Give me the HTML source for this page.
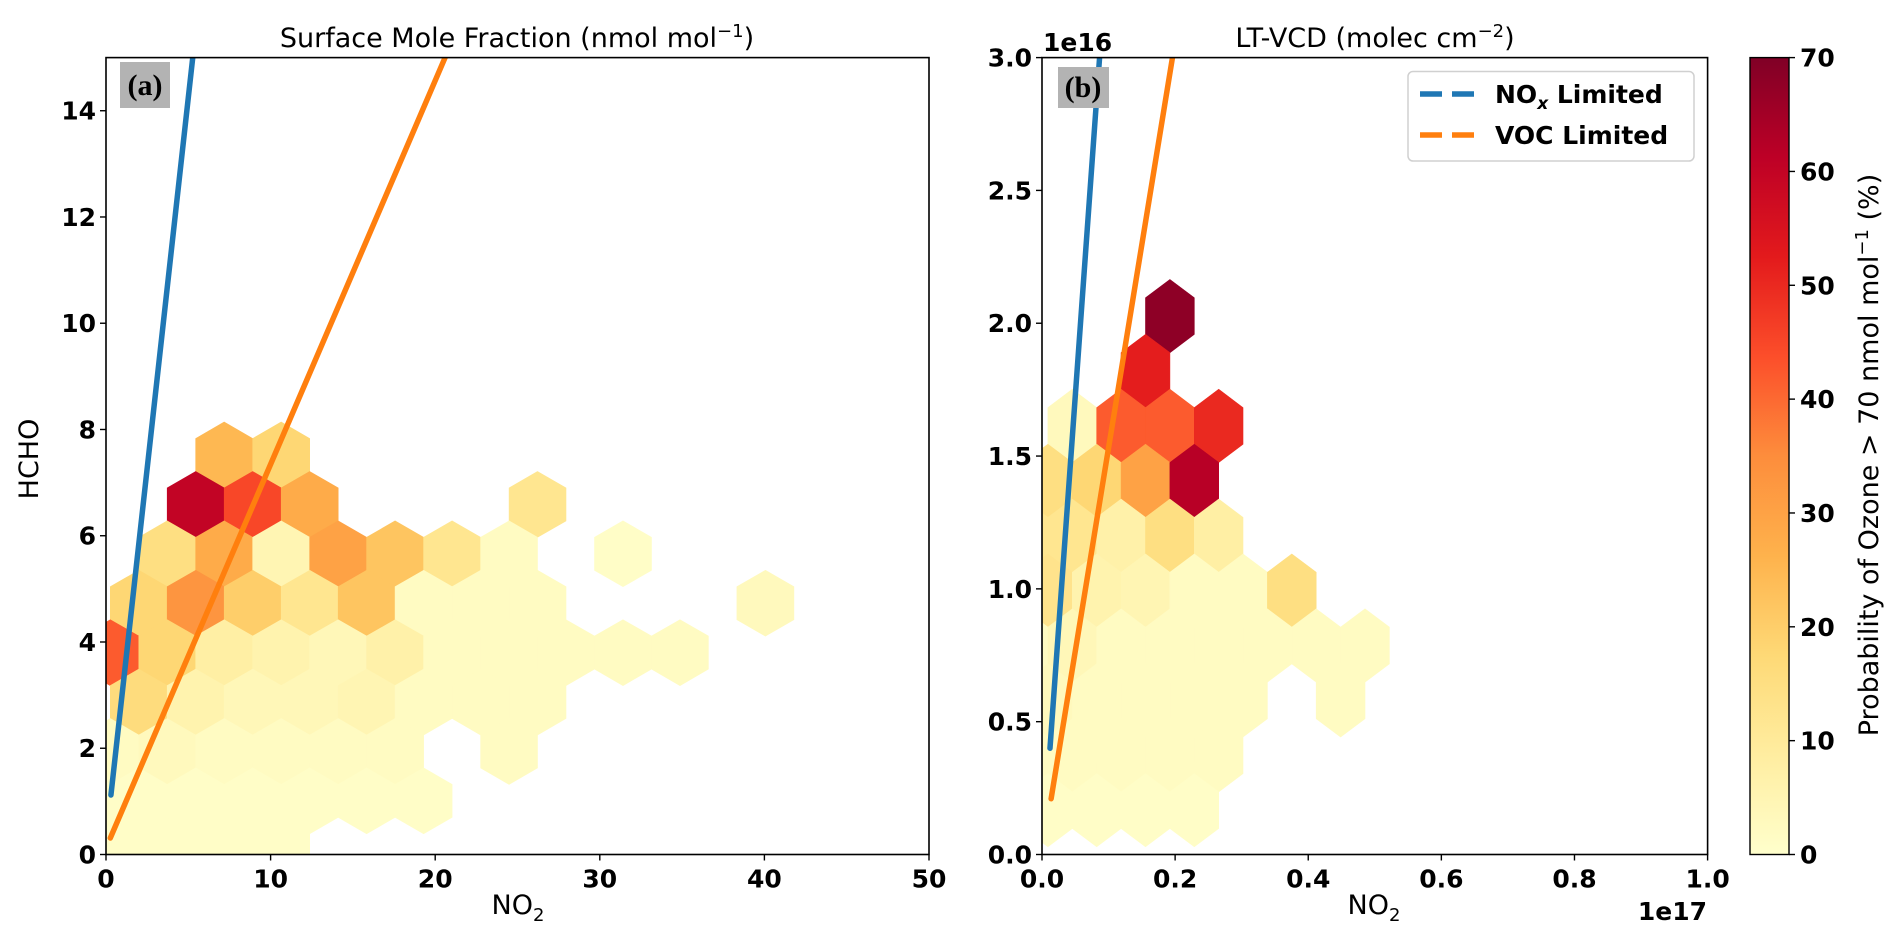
<!DOCTYPE html>
<html><head><meta charset="utf-8"><style>
html,body{margin:0;padding:0;background:#fff;}
svg{display:block;font-family:"DejaVu Sans","Liberation Sans",sans-serif;}
.tk{font-size:25px;font-weight:bold;fill:#000;}
.lbl{font-size:27px;fill:#000;}
</style></head><body>
<svg id="fig" width="1892" height="930" viewBox="0 0 1892 930" xmlns="http://www.w3.org/2000/svg">
<defs>
<clipPath id="clipA"><rect x="106" y="57.6" width="823" height="797"/></clipPath>
<clipPath id="clipB"><rect x="1042" y="57.6" width="665.6" height="797"/></clipPath>
<linearGradient id="cmap" x1="0" y1="1" x2="0" y2="0">
<stop offset="0" stop-color="#ffffcc"/><stop offset="0.125" stop-color="#ffeda0"/><stop offset="0.25" stop-color="#fed976"/><stop offset="0.375" stop-color="#feb24c"/><stop offset="0.5" stop-color="#fd8d3c"/><stop offset="0.625" stop-color="#fc4e2a"/><stop offset="0.75" stop-color="#e31a1c"/><stop offset="0.875" stop-color="#bd0026"/><stop offset="1" stop-color="#800026"/>
</linearGradient>
</defs>
<g id="panelA"></g>
<g id="panelB"></g>
<g id="cbar"></g>
</svg>
<script>
// ---- Panel (a) data ----
const aRows=[8,8, 7,7,7,7, 6,6,6,6,6,6,6,6, 5,5,5,5,5,5,5,5,5, 4,4,4,4,4,4,4,4,4,4,4, 3,3,3,3,3,3,3,3, 2,2,2,2,2,2,2, 1,1,1,1,1,1,1, 0,0,0,0];
const aCols=[2,3, 1,2,3,7, 1,2,3,4,5,6,7,9, 0,1,2,3,4,5,6,7,11, 0,1,2,3,4,5,6,7,8,9,10, 0,1,2,3,4,5,6,7, 0,1,2,3,4,5,7, -1,0,1,2,3,4,5, 0,1,2,3];
const aVals=[25,18, 60,45,28,12, 15,28,5,30,22,12,2,1, 18,33,20,12,22,2,2,2,3, 42,18,8,6,4,7,2,2,2,2,2, 16,6,4,4,5,2,2,2, 2,3,2,2,2,2,2, 1,1,1,1,1,1,1, 1,1,1,1];
const aXTicks=[0,10,20,30,40,50];
const aYTicks=[0,2,4,6,8,10,12,14];
const aNoxLine=[[0.3,1.12],[5.27,15]];
const aVocLine=[[0.26,0.31],[20.6,15]];
// ---- Panel (b) data ----
const bRows=[9, 8, 7,7,7,7, 6,6,6,6, 5,5,5,5,5, 4,4,4,4,4,4, 3,3,3,3,3,3,3,3, 2,2,2,2,2,2, 1,1,1,1,1, 0,0,0,0];
const bCols=[3, 2, 1,2,3,4, 0,1,2,3, 0,1,2,3,4, 0,1,2,3,4,5, 0,1,2,3,4,5,6,7, 0,1,2,3,4,6, 0,1,2,3,4, 0,1,2,3];
const bVals=[68, 52, 3,42,42,50, 15,18,30,62, 12,12,7,15,8, 13,6,5,2,2,15, 2,4,2,2,2,2,2,2, 3,2,2,2,2,2, 2,2,2,2,2, 1,1,1,1];
const bXTicks=[0,0.2,0.4,0.6,0.8,1.0];
const bYTicks=[0,0.5,1.0,1.5,2.0,2.5,3.0];
const bNoxLine=[[0.012,0.40],[0.0865,3.0]];
const bVocLine=[[0.0137,0.21],[0.196,3.0]];
const cbTicks=[0,10,20,30,40,50,60,70];

const NS="http://www.w3.org/2000/svg";
function mk(tag,attrs,parent,text){const e=document.createElementNS(NS,tag);for(const k in attrs)e.setAttribute(k,attrs[k]);if(text!==undefined)e.textContent=text;parent.appendChild(e);return e;}
const stops=[[0,[255,255,204]],[0.125,[255,237,160]],[0.25,[254,217,118]],[0.375,[254,178,76]],[0.5,[253,141,60]],[0.625,[252,78,42]],[0.75,[227,26,28]],[0.875,[189,0,38]],[1,[128,0,38]]];
function cmap(v){let t=Math.max(0,Math.min(1,v/70));for(let i=0;i<stops.length-1;i++){const [t0,c0]=stops[i],[t1,c1]=stops[i+1];if(t<=t1){const f=(t-t0)/(t1-t0);return 'rgb('+c0.map((c,j)=>Math.round(c+(c1[j]-c)*f)).join(',')+')';}}return 'rgb(128,0,38)';}

const Y0=854.5,Y1=57.6;
const xa=v=>106+(v-0)/50*823, ya=v=>Y0-(v/15)*(Y0-Y1);
const xb=v=>1042+v*665.6, yb=v=>Y0-(v/3)*(Y0-Y1);

function drawPanel(g,clip,xf,yf,rows,cols,vals,grid,name){
  const hg=mk('g',{'clip-path':'url(#'+clip+')'},g);
  
  
  for(let i=0;i<rows.length;i++){
    const r=rows[i],c=cols[i];
    const dxo=(r%2===grid.oddParity)?grid.dx/2:0;
    const cxD=grid.x0+c*grid.dx+dxo, cyD=grid.y0+r*grid.dy;
    const hw=(xf(cxD+grid.dx/2)-xf(cxD-grid.dx/2))/2;
    const hh=(yf(cyD)-yf(cyD+grid.dy*2/3));
    const cx=xf(cxD),cy=yf(cyD);
    const pts=[[cx,cy-hh],[cx+hw,cy-hh/2],[cx+hw,cy+hh/2],[cx,cy+hh],[cx-hw,cy+hh/2],[cx-hw,cy-hh/2]].map(p=>p[0].toFixed(1)+','+p[1].toFixed(1)).join(' ');
    const p=mk('polygon',{points:pts,fill:cmap(vals[i]),stroke:cmap(vals[i]),'stroke-width':0.6},hg);
    
    
  }
}
function drawLine(g,clip,xf,yf,pts,color,name){
  const l=mk('line',{x1:xf(pts[0][0]),y1:yf(pts[0][1]),x2:xf(pts[1][0]),y2:yf(pts[1][1]),stroke:color,'stroke-width':5.5,'stroke-linecap':'round','clip-path':'url(#'+clip+')'},g);
  
  
}
function drawAxes(g,x0,x1,xf,yf,xt,yt,xfmt,yfmt){
  const fr=mk('rect',{x:x0,y:Y1,width:x1-x0,height:Y0-Y1,fill:'none',stroke:'#000','stroke-width':1.6},g);
  
  
  xt.forEach(v=>{const x=xf(v);mk('line',{x1:x,y1:Y0,x2:x,y2:Y0+6,stroke:'#000','stroke-width':1.4},g);
    const t=mk('text',{x:x,y:Y0+33,'text-anchor':'middle',class:'tk'},g,xfmt(v));
    
    });
  yt.forEach(v=>{const y=yf(v);mk('line',{x1:x0-6,y1:y,x2:x0,y2:y,stroke:'#000','stroke-width':1.4},g);
    const t=mk('text',{x:x0-10,y:y+9,'text-anchor':'end',class:'tk'},g,yfmt(v));
    
    });
}

const gA=document.getElementById('panelA');
drawPanel(gA,'clipA',xa,ya,aRows,aCols,aVals,{x0:0.26,dx:3.461,y0:0.08,dy:0.93,oddParity:1},'panel-a');
drawLine(gA,'clipA',xa,ya,aNoxLine,'#1f77b4','nox-limited-line-a');
drawLine(gA,'clipA',xa,ya,aVocLine,'#ff7f0e','voc-limited-line-a');
drawAxes(gA,106,929,xa,ya,aXTicks,aYTicks,v=>String(v),v=>String(v));
const gB=document.getElementById('panelB');
drawPanel(gB,'clipB',xb,yb,bRows,bCols,bVals,{x0:-0.0278,dx:0.0733,y0:0.1666,dy:0.2067,oddParity:0},'panel-b');
drawLine(gB,'clipB',xb,yb,bNoxLine,'#1f77b4','nox-limited-line-b');
drawLine(gB,'clipB',xb,yb,bVocLine,'#ff7f0e','voc-limited-line-b');
drawAxes(gB,1042,1707.6,xb,yb,bXTicks,bYTicks,v=>v.toFixed(1),v=>v.toFixed(1));
const gC=document.getElementById('cbar');
const cbr=mk('rect',{x:1750,y:Y1,width:39,height:Y0-Y1,fill:'url(#cmap)',stroke:'#000','stroke-width':1.4},gC);


cbTicks.forEach(v=>{const y=Y0-(v/70)*(Y0-Y1);mk('line',{x1:1789,y1:y,x2:1795,y2:y,stroke:'#000','stroke-width':1.4},gC);
  const t=mk('text',{x:1800,y:y+9,class:'tk'},gC,String(v));
  
  });
</script>
<script>
const fig=document.getElementById('fig');
fig.insertAdjacentHTML('beforeend',`
<text x="517" y="47" text-anchor="middle" class="lbl">Surface Mole Fraction (nmol mol<tspan dy="-10" font-size="18">−1</tspan><tspan dy="10">)</tspan></text>
<text x="1375" y="47" text-anchor="middle" class="lbl">LT-VCD (molec cm<tspan dy="-10" font-size="18">−2</tspan><tspan dy="10">)</tspan></text>
<text x="518" y="914" text-anchor="middle" class="lbl">NO<tspan dy="7" font-size="18">2</tspan></text>
<text x="1374" y="914" text-anchor="middle" class="lbl">NO<tspan dy="7" font-size="18">2</tspan></text>
<text transform="translate(38,459) rotate(-90)" text-anchor="middle" class="lbl">HCHO</text>
<text transform="translate(1878,455) rotate(-90)" text-anchor="middle" class="lbl">Probability of Ozone &gt; 70 nmol mol<tspan dy="-10" font-size="18">−1</tspan><tspan dy="10"> (%)</tspan></text>
<text x="1043" y="51" class="tk">1e16</text>
<text x="1707" y="920" text-anchor="end" class="tk">1e17</text>
<rect x="120" y="62" width="50" height="46" fill="#b3b3b3"/>
<text x="145" y="95" text-anchor="middle" font-family="Liberation Serif, DejaVu Serif, serif" font-weight="bold" font-size="30">(a)</text>
<rect x="1058" y="67" width="51" height="41" fill="#b3b3b3"/>
<text x="1083" y="97" text-anchor="middle" font-family="Liberation Serif, DejaVu Serif, serif" font-weight="bold" font-size="30">(b)</text>
<g>
<rect x="1408" y="71.5" width="286" height="89.5" rx="5" fill="#fff" fill-opacity="0.85" stroke="#d0d0d0" stroke-width="1.5"/>
<line x1="1420" y1="94" x2="1474" y2="94" stroke="#1f77b4" stroke-width="5.5" stroke-dasharray="22,10"/>
<text x="1495" y="103" class="tk">NO<tspan dy="6" font-size="17" font-style="italic">x</tspan><tspan dy="-6"> Limited</tspan></text>
<line x1="1420" y1="135" x2="1474" y2="135" stroke="#ff7f0e" stroke-width="5.5" stroke-dasharray="22,10"/>
<text x="1495" y="144" class="tk">VOC Limited</text>
</g>`);
</script>
</body></html>
